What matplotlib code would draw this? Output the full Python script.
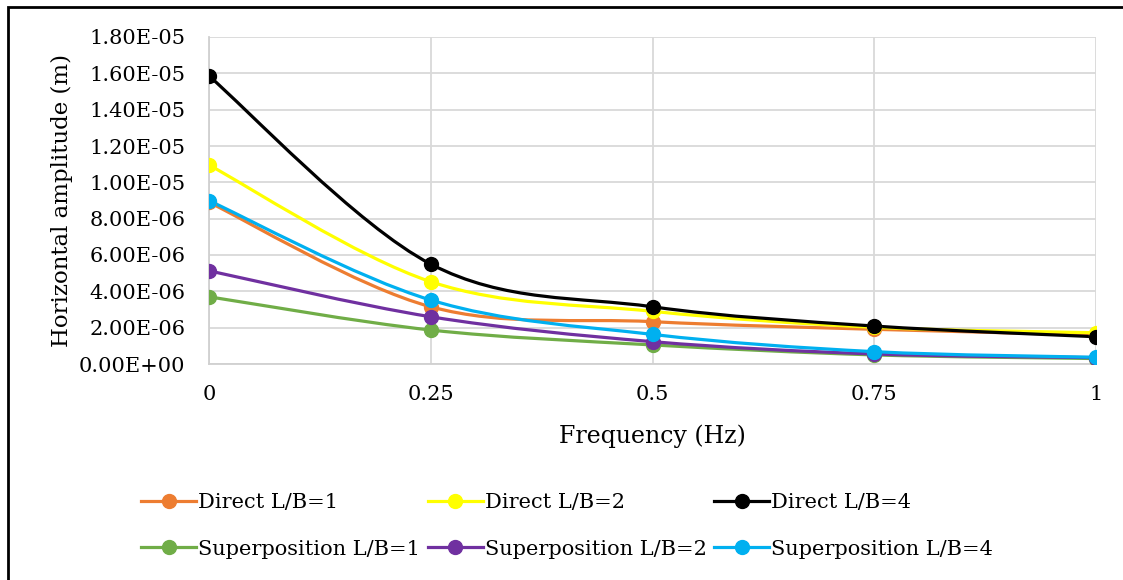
import matplotlib
matplotlib.use("Agg")
import matplotlib.pyplot as plt
from matplotlib.path import Path
from matplotlib.patches import PathPatch, Rectangle
from matplotlib.lines import Line2D
import numpy as np

plt.rcParams['font.family'] = ['DejaVu Serif']

frequency = [0, 0.25, 0.5, 0.75, 1]
xtick_labels = ["0", "0.25", "0.5", "0.75", "1"]

direct_lb1 = [8.9e-6, 3.15e-6, 2.33e-6, 1.91e-6, 1.6e-6]
direct_lb2 = [10.95e-6, 4.53e-6, 2.9e-6, 2.02e-6, 1.72e-6]
direct_lb4 = [15.85e-6, 5.5e-6, 3.15e-6, 2.09e-6, 1.5e-6]
super_lb1 = [3.7e-6, 1.87e-6, 1.05e-6, 0.5e-6, 0.3e-6]
super_lb2 = [5.13e-6, 2.6e-6, 1.23e-6, 0.55e-6, 0.35e-6]
super_lb4 = [8.99e-6, 3.52e-6, 1.63e-6, 0.68e-6, 0.37e-6]

series = [
    ("Direct L/B=1", direct_lb1, "#ED7D31"),
    ("Direct L/B=2", direct_lb2, "#FFFF00"),
    ("Direct L/B=4", direct_lb4, "#000000"),
    ("Superposition L/B=1", super_lb1, "#70AD47"),
    ("Superposition L/B=2", super_lb2, "#7030A0"),
    ("Superposition L/B=4", super_lb4, "#00B0F0"),
]


def smooth_path(x, y):
    """Excel-like smoothing: cubic Bezier segments with Catmull-Rom control points."""
    x = np.asarray(x, float)
    y = np.asarray(y, float)
    n = len(x)
    verts = [(x[0], y[0])]
    codes = [Path.MOVETO]
    for i in range(n - 1):
        p0 = (x[i - 1], y[i - 1]) if i > 0 else (x[i], y[i])
        p1 = (x[i], y[i])
        p2 = (x[i + 1], y[i + 1])
        p3 = (x[i + 2], y[i + 2]) if i + 2 < n else (x[i + 1], y[i + 1])
        c1 = (p1[0] + (p2[0] - p0[0]) / 6, p1[1] + (p2[1] - p0[1]) / 6)
        c2 = (p2[0] - (p3[0] - p1[0]) / 6, p2[1] - (p3[1] - p1[1]) / 6)
        verts += [c1, c2, p2]
        codes += [Path.CURVE4] * 3
    return Path(verts, codes)


fig = plt.figure(figsize=(11.23, 5.80), dpi=100)
ax = fig.add_axes([209 / 1123, 1 - 364 / 580, (1096 - 209) / 1123, (364 - 37) / 580])

handles = []
for label, vals, color in series:
    patch = PathPatch(smooth_path(frequency, vals), facecolor="none", edgecolor=color,
                      lw=2.3, zorder=3, capstyle="round", joinstyle="round")
    ax.add_patch(patch)
    ax.plot(frequency, vals, linestyle="none", marker="o", markersize=10,
            color=color, zorder=4)
    handles.append(Line2D([], [], color=color, lw=2.3, marker="o", markersize=10,
                          label=label))

ax.set_xlim(0, 1)
ax.set_ylim(0, 1.8e-5)
ax.set_xticks(frequency)
ax.set_xticklabels(xtick_labels)
yt = np.arange(0, 1.81e-5, 2e-6)
ax.set_yticks(yt)
ax.set_yticklabels(["%.2E" % v for v in yt])
ax.tick_params(axis="both", length=0, labelsize=15, colors="black")
ax.tick_params(axis="x", pad=15)
ax.tick_params(axis="y", pad=17)
ax.grid(True, color="#d9d9d9", linewidth=1.3)
ax.set_axisbelow(True)
for s in ["top", "right"]:
    ax.spines[s].set_visible(False)
for s in ["left", "bottom"]:
    ax.spines[s].set_color("#d0d0d0")
    ax.spines[s].set_linewidth(1.3)

ax.set_xlabel("Frequency (Hz)", fontsize=17, labelpad=15)
ax.set_ylabel("Horizontal amplitude (m)", fontsize=16.5, labelpad=4)

# Legend: rows are Direct / Superposition -> column-major reordering
order = [0, 3, 1, 4, 2, 5]
leg = fig.legend([handles[i] for i in order], [handles[i].get_label() for i in order],
                 ncol=3, loc="center", bbox_to_anchor=(0.505, 1 - 526 / 580),
                 frameon=False, fontsize=15, handlelength=2.65, handletextpad=0.1,
                 columnspacing=0.35, labelspacing=1.3)

# Outer border (top and left edges visible)
fig.patches.append(Rectangle((8 / 1123, -0.05), 1.1, 1 - 7 / 580 + 0.05,
                             transform=fig.transFigure, fill=False,
                             edgecolor="black", linewidth=2, zorder=10))

fig.savefig("out.png", dpi=100)
